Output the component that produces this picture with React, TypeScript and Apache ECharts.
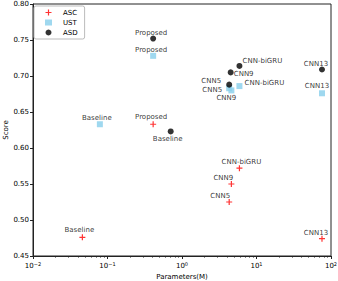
import React, { useEffect, useRef } from "react";
import * as echarts from "echarts";

const ascNames = ["Baseline", "Proposed", "CNN-biGRU", "CNN9", "CNN5", "CNN13"];
const ascParams = [0.046, 0.41, 5.9, 4.6, 4.3, 75.7];
const ascScores = [0.476, 0.633, 0.572, 0.55, 0.525, 0.474];
const ascLabelOffsets = [[-3, -7], [-2, -7], [2, -6], [-8, -6], [-9, -6], [-6, -6]];

const ustNames = ["Baseline", "Proposed", "CNN-biGRU", "CNN5", "CNN9", "CNN13"];
const ustParams = [0.079, 0.41, 5.9, 4.3, 4.6, 75.7];
const ustScores = [0.633, 0.728, 0.686, 0.683, 0.68, 0.676];
const ustLabelOffsets = [[-3, -6], [-2, -6], [25, -3], [-17, 2], [-5, 8], [-5, -7]];

const asdNames = ["Proposed", "Baseline", "CNN-biGRU", "CNN9", "CNN5", "CNN13"];
const asdParams = [0.41, 0.705, 5.9, 4.5, 4.3, 75.7];
const asdScores = [0.752, 0.623, 0.714, 0.705, 0.688, 0.709];
const asdLabelOffsets = [[-2, -6], [-3, 8], [23, -5], [13, 2], [-18, -4], [-6, -6]];

const yTicks = [0.45, 0.5, 0.55, 0.6, 0.65, 0.7, 0.75, 0.8];
const minorTicks: number[] = [];
[0.01, 0.1, 1, 10].forEach((d) => {
  for (let k = 2; k <= 9; k++) minorTicks.push(+(d * k).toPrecision(3));
});

const FONT = "DejaVu Sans";
const PLUS = "path://M4,0h2v4h4v2h-4v4h-2v-4h-4v-2h4z";

function build(names: string[], xs: number[], ys: number[], offs: number[][]) {
  return names.map((n, i) => ({
    value: [xs[i], ys[i]],
    name: n,
    label: {
      show: true,
      formatter: n,
      position: "inside",
      offset: offs[i],
      align: "center",
      verticalAlign: "middle",
      fontFamily: FONT,
      fontSize: 7,
      color: "#000",
      textBorderWidth: 0,
      textBorderColor: "transparent",
    },
  }));
}

export default function App() {
  const ref = useRef<HTMLDivElement>(null);
  useEffect(() => {
    const chart = echarts.init(ref.current!, undefined, { renderer: "svg" });
    const supMap: Record<string, string> = { "-2": "−2", "-1": "−1", "0": "0", "1": "1", "2": "2" };
    chart.setOption({
      animation: false,
      textStyle: { fontFamily: FONT },
      grid: {
        left: 33,
        right: 7,
        top: 4,
        bottom: 25,
        outerBoundsMode: "none",
        containLabel: false,
        show: true,
        borderColor: "#222",
        borderWidth: 1,
        backgroundColor: "transparent",
      },
      legend: {
        orient: "vertical",
        left: 34,
        top: 6,
        padding: [3, 7, 3, 11],
        backgroundColor: "#fff",
        borderColor: "#bbb",
        borderWidth: 1,
        borderRadius: 2,
        itemWidth: 7,
        itemHeight: 6,
        itemGap: 3,
        textStyle: { fontFamily: FONT, fontSize: 7, color: "#000", padding: [0, 0, 0, 6] },
        data: ["ASC", "UST", "ASD"],
      },
      xAxis: [
        {
          type: "log",
          logBase: 10,
          min: 0.01,
          max: 100,
          name: "Parameters(M)",
          nameLocation: "middle",
          nameGap: 17,
          nameMoveOverlap: false,
          nameTextStyle: { fontFamily: FONT, fontSize: 7, color: "#000" },
          axisLine: { lineStyle: { color: "#222", width: 1 } },
          axisTick: { length: 3, lineStyle: { color: "#222" } },
          splitLine: { show: false },
          axisLabel: {
            margin: 5,
            color: "#000",
            fontFamily: FONT,
            fontSize: 7,
            formatter: (v: number) => {
              const e = String(Math.round(Math.log10(v)));
              return "10{sup|" + (supMap[e] ?? e) + "}";
            },
            rich: {
              sup: { fontSize: 5, verticalAlign: "top", padding: [0, 0, 5, 0], fontFamily: FONT, color: "#000" },
            },
          },
        },
        {
          type: "log",
          logBase: 10,
          min: 0.01,
          max: 100,
          position: "bottom",
          axisLine: { show: false },
          axisLabel: { show: false },
          splitLine: { show: false },
          axisTick: { show: true, length: 1.5, customValues: minorTicks, lineStyle: { color: "#222" } },
        },
      ],
      yAxis: {
        type: "value",
        min: 0.45,
        max: 0.8,
        interval: 0.05,
        name: "Score",
        nameLocation: "middle",
        nameGap: 24,
        nameMoveOverlap: false,
        nameTextStyle: { fontFamily: FONT, fontSize: 7, color: "#000" },
        axisLine: { show: true, lineStyle: { color: "#222", width: 1 } },
        axisTick: { show: true, length: 3, lineStyle: { color: "#222" } },
        splitLine: { show: false },
        axisLabel: {
          margin: 4,
          color: "#000",
          fontFamily: FONT,
          fontSize: 7,
          customValues: yTicks,
          formatter: (v: number) => v.toFixed(2),
        },
      },
      series: [
        {
          name: "ASC",
          type: "scatter",
          xAxisIndex: 0,
          symbol: PLUS,
          symbolSize: 6,
          itemStyle: { color: "#ff0000" },
          data: build(ascNames, ascParams, ascScores, ascLabelOffsets),
          z: 3,
        },
        {
          name: "UST",
          type: "scatter",
          xAxisIndex: 0,
          symbol: "rect",
          symbolSize: 6,
          itemStyle: { color: "#87ceeb" },
          data: build(ustNames, ustParams, ustScores, ustLabelOffsets),
          z: 2,
        },
        {
          name: "ASD",
          type: "scatter",
          xAxisIndex: 0,
          symbol: "circle",
          symbolSize: 6,
          itemStyle: { color: "#000" },
          data: build(asdNames, asdParams, asdScores, asdLabelOffsets),
          z: 4,
        },
      ],
    });
    return () => chart.dispose();
  }, []);
  return <div ref={ref} style={{ width: 338, height: 281, position: "absolute", left: 0, top: 0, background: "#fff" }} />;
}
